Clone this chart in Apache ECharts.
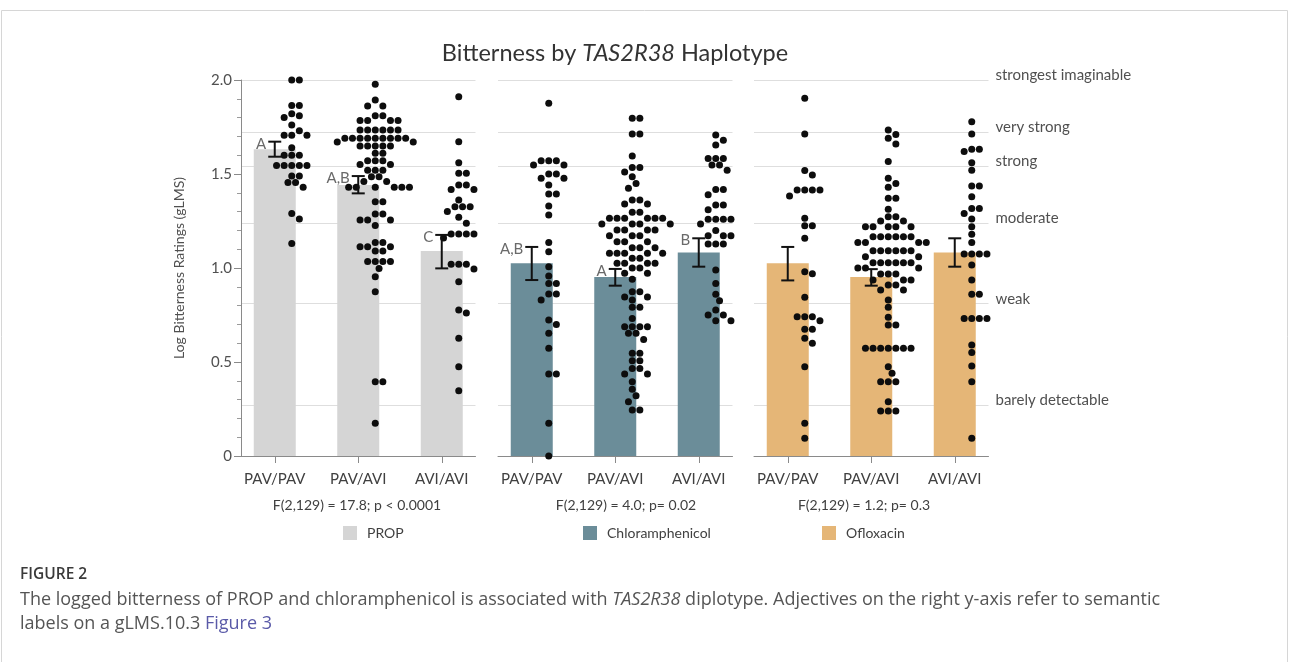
<!DOCTYPE html>
<html>
<head>
<meta charset="utf-8">
<script src="https://cdn.jsdelivr.net/npm/echarts@6/dist/echarts.min.js"></script>
<style>
html,body{margin:0;padding:0;background:#fff;}
#chart{width:1296px;height:662px;}
</style>
</head>
<body>
<div id="chart"></div>
<script>
// ---------------- DATA ----------------
const categories = ['PAV/PAV', 'PAV/AVI', 'AVI/AVI'];
const drugs = ['PROP', 'Chloramphenicol', 'Ofloxacin'];
const fStats = ['F(2,129) = 17.8; p < 0.0001', 'F(2,129) = 4.0; p= 0.02', 'F(2,129) = 1.2; p= 0.3'];
const semanticLabels = ['strongest imaginable', 'very strong', 'strong', 'moderate', 'weak', 'barely detectable'];
const semanticValues = [2.0, 1.716, 1.544, 1.238, 0.81, 0.273];

const propMeans = [1.631, 1.441, 1.09];
const propLow = [1.592, 1.397, 0.998];
const propHigh = [1.672, 1.489, 1.176];
const propLetters = ['A', 'A,B', 'C'];

const chlorMeans = [1.025, 0.952, 1.082];
const chlorLow = [0.936, 0.906, 1.007];
const chlorHigh = [1.112, 0.995, 1.158];
const chlorLetters = ['A,B', 'A', 'B'];

const oflxMeans = [1.025, 0.952, 1.082];
const oflxLow = [0.934, 0.906, 1.007];
const oflxHigh = [1.112, 0.994, 1.158];
const oflxLetters = ['', '', ''];

const propPAVPAV = [2.0, 2.0, 1.865, 1.865, 1.82, 1.81, 1.80, 1.76, 1.73, 1.706, 1.706, 1.706, 1.64, 1.60, 1.60, 1.60,
  1.545, 1.545, 1.545, 1.545, 1.545, 1.49, 1.49, 1.455, 1.455, 1.43, 1.29, 1.26, 1.13];
const propPAVAVI = [1.977, 1.894, 1.862, 1.862, 1.81, 1.81, 1.784, 1.784, 1.784, 1.784,
  1.734, 1.734, 1.734, 1.734, 1.734, 1.734, 1.69, 1.69, 1.69, 1.69, 1.69, 1.69, 1.69, 1.69, 1.69,
  1.67, 1.67, 1.649, 1.649, 1.649, 1.649, 1.649, 1.61, 1.61, 1.571, 1.571, 1.571, 1.55, 1.55,
  1.52, 1.52, 1.52, 1.486, 1.486, 1.46, 1.46, 1.429, 1.429, 1.429, 1.429, 1.429, 1.429,
  1.353, 1.353, 1.287, 1.287, 1.255, 1.255, 1.255, 1.226, 1.135, 1.135, 1.113, 1.113, 1.113,
  1.09, 1.09, 1.034, 1.034, 1.034, 1.034, 0.998, 0.954, 0.874, 0.395, 0.395, 0.174];
const propAVIAVI = [1.911, 1.672, 1.56, 1.504, 1.504, 1.441, 1.441, 1.418, 1.418, 1.362, 1.326, 1.326, 1.326,
  1.30, 1.30, 1.27, 1.238, 1.181, 1.181, 1.181, 1.181, 1.16, 1.16, 1.02, 1.02, 1.02, 0.995, 0.927,
  0.777, 0.76, 0.626, 0.475, 0.347];

const chlorPAVPAV = [1.876, 1.571, 1.571, 1.571, 1.548, 1.548, 1.50, 1.50, 1.477, 1.477, 1.441, 1.394, 1.394,
  1.33, 1.282, 1.135, 1.087, 1.007, 0.957, 0.918, 0.918, 0.862, 0.862, 0.83, 0.723, 0.70, 0.653, 0.573,
  0.436, 0.436, 0.174, 0.0];
const chlorPAVAVI = [1.796, 1.796, 1.713, 1.713, 1.596, 1.535, 1.535, 1.51, 1.486, 1.45, 1.424, 1.362, 1.362,
  1.34, 1.34, 1.296, 1.296, 1.264, 1.264, 1.264, 1.264, 1.264, 1.264, 1.234, 1.234, 1.234, 1.234,
  1.202, 1.202, 1.202, 1.202, 1.172, 1.172, 1.172, 1.14, 1.14, 1.14, 1.108, 1.108, 1.108,
  1.078, 1.078, 1.078, 1.078, 1.078, 1.052, 1.052, 1.025, 1.025, 1.025, 1.025, 1.0, 1.0,
  0.972, 0.972, 0.94, 0.874, 0.874, 0.846, 0.846, 0.83, 0.791, 0.791, 0.732, 0.688, 0.688, 0.688, 0.688,
  0.653, 0.653, 0.62, 0.546, 0.546, 0.507, 0.507, 0.466, 0.466, 0.436, 0.436, 0.395, 0.355, 0.32,
  0.289, 0.245, 0.245];
const chlorAVIAVI = [1.707, 1.68, 1.654, 1.583, 1.583, 1.583, 1.548, 1.548, 1.52, 1.418, 1.418, 1.39,
  1.335, 1.335, 1.31, 1.259, 1.259, 1.259, 1.259, 1.234, 1.234, 1.20, 1.172, 1.172, 1.172,
  1.128, 1.128, 1.128, 0.989, 0.918, 0.86, 0.826, 0.777, 0.75, 0.75, 0.72, 0.72];

const oflxPAVPAV = [1.903, 1.713, 1.518, 1.495, 1.415, 1.415, 1.415, 1.415, 1.383, 1.264, 1.225, 1.225, 1.158,
  0.98, 0.97, 0.844, 0.741, 0.741, 0.741, 0.72, 0.674, 0.674, 0.626, 0.60, 0.475, 0.174, 0.094];
const oflxPAVAVI = [1.734, 1.71, 1.69, 1.66, 1.566, 1.477, 1.45, 1.43, 1.371, 1.371, 1.312, 1.273, 1.273,
  1.25, 1.25, 1.22, 1.22, 1.22, 1.22, 1.22, 1.166, 1.166, 1.166, 1.166, 1.166, 1.166,
  1.135, 1.135, 1.135, 1.135, 1.092, 1.092, 1.092, 1.092, 1.092, 1.092, 1.06, 1.06,
  1.028, 1.028, 1.028, 1.028, 1.028, 1.028, 1.0, 1.0, 1.0, 0.968, 0.968, 0.968, 0.936, 0.936, 0.936,
  0.91, 0.91, 0.883, 0.883, 0.83, 0.791, 0.738, 0.697, 0.697,
  0.573, 0.573, 0.573, 0.573, 0.573, 0.573, 0.573, 0.475, 0.44, 0.395, 0.395, 0.395, 0.289,
  0.239, 0.239, 0.239];
const oflxAVIAVI = [1.778, 1.713, 1.631, 1.631, 1.62, 1.56, 1.52, 1.436, 1.436, 1.379, 1.317, 1.317, 1.29,
  1.26, 1.22, 1.18, 1.135, 1.074, 1.074, 1.074, 1.074, 1.016, 0.936, 0.86, 0.86,
  0.732, 0.732, 0.732, 0.732, 0.59, 0.55, 0.479, 0.395, 0.094];

// ---------------- LAYOUT / STYLE ----------------
const FONT = 'Lato, "Open Sans", sans-serif';
const colors = ['#d5d5d5', '#6b8d99', '#e5b677'];
const PANEL_LEFT = [233, 490, 746];
const BAND = 83.5;
const INSET = 8;
const TOP = 80, H = 376;
const Y_MAX = 2.0;
const PX_PER_UNIT = H / Y_MAX;
const DOT = 7;        // dot diameter px
const DOT_GAP = 7.6;  // min centre distance px
const CLOUD_SHIFT = 17 / BAND;

const panels = [
  {means: propMeans, low: propLow, high: propHigh, letters: propLetters, groups: [propPAVPAV, propPAVAVI, propAVIAVI]},
  {means: chlorMeans, low: chlorLow, high: chlorHigh, letters: chlorLetters, groups: [chlorPAVPAV, chlorPAVAVI, chlorAVIAVI]},
  {means: oflxMeans, low: oflxLow, high: oflxHigh, letters: oflxLetters, groups: [oflxPAVPAV, oflxPAVAVI, oflxAVIAVI]}
];

// beeswarm offsets (px) computed from values
function swarm(values) {
  const order = values.map((v, i) => i).sort((a, b) => values[b] - values[a]);
  const placed = [];
  const out = new Array(values.length);
  const min2 = DOT_GAP * DOT_GAP * 0.92;
  for (const i of order) {
    const y = values[i] * PX_PER_UNIT;
    let chosen = 0;
    for (let k = 0; k < 400; k++) {
      const step = Math.ceil(k / 2) * (k % 2 === 1 ? 1 : -1);
      const cand = step * DOT_GAP / 2;
      let ok = true;
      for (const p of placed) {
        const dx = p.x - cand, dy = p.y - y;
        if (dx * dx + dy * dy < min2) { ok = false; break; }
      }
      if (ok) { chosen = cand; break; }
    }
    placed.push({x: chosen, y});
    out[i] = chosen;
  }
  return out;
}

const grids = [], xAxes = [], yAxes = [], series = [], graphics = [];
const xInnerMin = -0.5 + INSET / BAND, xInnerMax = 2.5 - INSET / BAND;

for (let p = 0; p < 3; p++) {
  grids.push({left: PANEL_LEFT[p], top: TOP, width: BAND * 3, height: H, containLabel: false, outerBoundsMode: 'none'});
}
for (let p = 0; p < 3; p++) {
  grids.push({left: PANEL_LEFT[p] + INSET, top: TOP, width: BAND * 3 - 2 * INSET, height: H, containLabel: false, outerBoundsMode: 'none'});
}

for (let p = 0; p < 3; p++) {
  xAxes.push({
    type: 'category', gridIndex: p, data: categories, boundaryGap: true,
    axisLine: {show: false},
    axisTick: {show: true, alignWithLabel: true, length: 7, lineStyle: {color: '#8a8a8a', width: 1}},
    axisLabel: {color: '#404040', fontSize: 15, fontFamily: FONT, margin: 16},
    splitLine: {show: false}
  });
  yAxes.push({type: 'value', gridIndex: p, min: 0, max: Y_MAX, show: false});
}
for (let p = 0; p < 3; p++) {
  xAxes.push({
    type: 'value', gridIndex: 3 + p, min: xInnerMin, max: xInnerMax,
    axisLine: {show: true, onZero: false, lineStyle: {color: '#8a8a8a', width: 1}},
    axisTick: {show: false}, axisLabel: {show: false}, splitLine: {show: false}
  });
  if (p === 0) {
    yAxes.push({
      type: 'value', gridIndex: 3, min: 0, max: Y_MAX, interval: 0.5, position: 'left',
      name: 'Log Bitterness Ratings (gLMS)', nameLocation: 'middle', nameGap: 55,
      nameTextStyle: {color: '#505050', fontSize: 14, fontFamily: FONT},
      axisLine: {show: true, onZero: false, lineStyle: {color: '#8a8a8a', width: 1}},
      axisTick: {show: true, length: 7, lineStyle: {color: '#8a8a8a'}},
      minorTick: {show: true, splitNumber: 5, length: 4, lineStyle: {color: '#9a9a9a'}},
      axisLabel: {color: '#505050', fontSize: 15, fontFamily: FONT, margin: 9,
        formatter: v => (v === 0 ? '0' : v.toFixed(1))},
      splitLine: {show: false}, minorSplitLine: {show: false}
    });
  } else {
    yAxes.push({type: 'value', gridIndex: 3 + p, min: 0, max: Y_MAX, show: false});
  }
}

for (let p = 0; p < 3; p++) {
  const P = panels[p];
  // gridlines at semantic levels
  series.push({
    type: 'line', xAxisIndex: 3 + p, yAxisIndex: 3 + p, data: [], silent: true, z: 0,
    markLine: {
      silent: true, symbol: 'none', z: 0, animation: false,
      lineStyle: {color: '#dedede', width: 1, type: 'solid'},
      label: {
        show: p === 2, position: 'end', distance: 7,
        color: '#505050', fontSize: 15, fontFamily: FONT, lineHeight: 10,
        formatter: prm => prm.name + '\n '
      },
      data: semanticValues.map((v, i) => ({yAxis: v, name: semanticLabels[i]}))
    }
  });
  // bars
  series.push({
    type: 'bar', name: drugs[p], xAxisIndex: p, yAxisIndex: p, z: 2,
    barWidth: 42, itemStyle: {color: colors[p]}, data: P.means, silent: true
  });
  // dots
  const pts = [];
  P.groups.forEach((vals, ci) => {
    const offs = swarm(vals);
    vals.forEach((v, k) => pts.push([ci + CLOUD_SHIFT + offs[k] / BAND, v]));
  });
  series.push({
    type: 'scatter', xAxisIndex: 3 + p, yAxisIndex: 3 + p, z: 3, silent: true,
    symbol: 'circle', symbolSize: DOT, itemStyle: {color: '#0d0d0d', opacity: 1},
    data: pts
  });
  // error bars + letters
  const letters = P.letters;
  series.push({
    type: 'custom', xAxisIndex: 3 + p, yAxisIndex: 3 + p, z: 4, silent: true,
    data: P.means.map((m, i) => [i, P.low[i], P.high[i]]),
    renderItem: (params, api) => {
      const x = api.value(0);
      const a = api.coord([x, api.value(1)]);
      const b = api.coord([x, api.value(2)]);
      const cap = 6.5;
      const st = {stroke: '#111', lineWidth: 2};
      const ch = [
        {type: 'line', shape: {x1: a[0], y1: a[1], x2: b[0], y2: b[1]}, style: st},
        {type: 'line', shape: {x1: a[0] - cap, y1: a[1], x2: a[0] + cap, y2: a[1]}, style: st},
        {type: 'line', shape: {x1: b[0] - cap, y1: b[1], x2: b[0] + cap, y2: b[1]}, style: st}
      ];
      const L = letters[params.dataIndex];
      if (L) {
        ch.push({type: 'text', x: b[0] - cap - 2, y: b[1] + 2,
          style: {text: L, align: 'right', verticalAlign: 'middle', fill: '#6a6a6a', fontSize: 15, fontFamily: FONT}});
      }
      return {type: 'group', children: ch};
    }
  });
}

// legends
const legendLeft = [343, 583, 822];
const legends = drugs.map((d, i) => ({
  data: [d], left: legendLeft[i], top: 526, padding: 0,
  icon: 'rect', itemWidth: 14, itemHeight: 14, selectedMode: false,
  textStyle: {color: '#404040', fontSize: 14, fontFamily: FONT, padding: [0, 0, 0, 5]}
}));

// texts
const fStatX = [357, 626, 864];
fStats.forEach((t, i) => graphics.push({
  type: 'text', x: fStatX[i], y: 505,
  style: {text: t, align: 'center', verticalAlign: 'middle', fill: '#404040', fontSize: 14, fontFamily: FONT}
}));
graphics.push({
  type: 'text', x: 615, y: 53,
  style: {
    text: '{a|Bitterness by }{i|TAS2R38}{a| Haplotype}', align: 'center', verticalAlign: 'middle',
    rich: {
      a: {fontSize: 23.5, fontFamily: FONT, fill: '#333'},
      i: {fontSize: 23.5, fontFamily: FONT, fontStyle: 'italic', fill: '#333'}
    }
  }
});
graphics.push({
  type: 'rect', shape: {x: 1.5, y: 10.5, width: 1286, height: 700},
  style: {fill: 'none', stroke: '#d6d6d6', lineWidth: 1}, silent: true
});
const CAP_FONT = '"Open Sans", sans-serif';
graphics.push({
  type: 'text', x: 20, y: 575,
  style: {text: 'FIGURE 2', verticalAlign: 'middle', fill: '#3a3a3a', fontSize: 15.5, fontWeight: 600, fontFamily: CAP_FONT}
});
graphics.push({
  type: 'text', x: 20, y: 600,
  style: {
    text: '{n|The logged bitterness of PROP and chloramphenicol is associated with }{i|TAS2R38}{n| diplotype. Adjectives on the right y-axis refer to semantic}',
    verticalAlign: 'middle',
    rich: {
      n: {fontSize: 18, fontFamily: CAP_FONT, fill: '#555'},
      i: {fontSize: 18, fontFamily: CAP_FONT, fontStyle: 'italic', fill: '#555'}
    }
  }
});
graphics.push({
  type: 'text', x: 20, y: 624,
  style: {
    text: '{n|labels on a gLMS.10.3 }{b|Figure 3}', verticalAlign: 'middle',
    rich: {
      n: {fontSize: 18, fontFamily: CAP_FONT, fill: '#555'},
      b: {fontSize: 18, fontFamily: CAP_FONT, fill: '#5a5aa8'}
    }
  }
});

const chart = echarts.init(document.getElementById('chart'), null, {renderer: 'canvas'});
chart.setOption({
  animation: false,
  backgroundColor: '#fff',
  grid: grids, xAxis: xAxes, yAxis: yAxes,
  legend: legends,
  series: series,
  graphic: graphics
});
</script>
</body>
</html>
